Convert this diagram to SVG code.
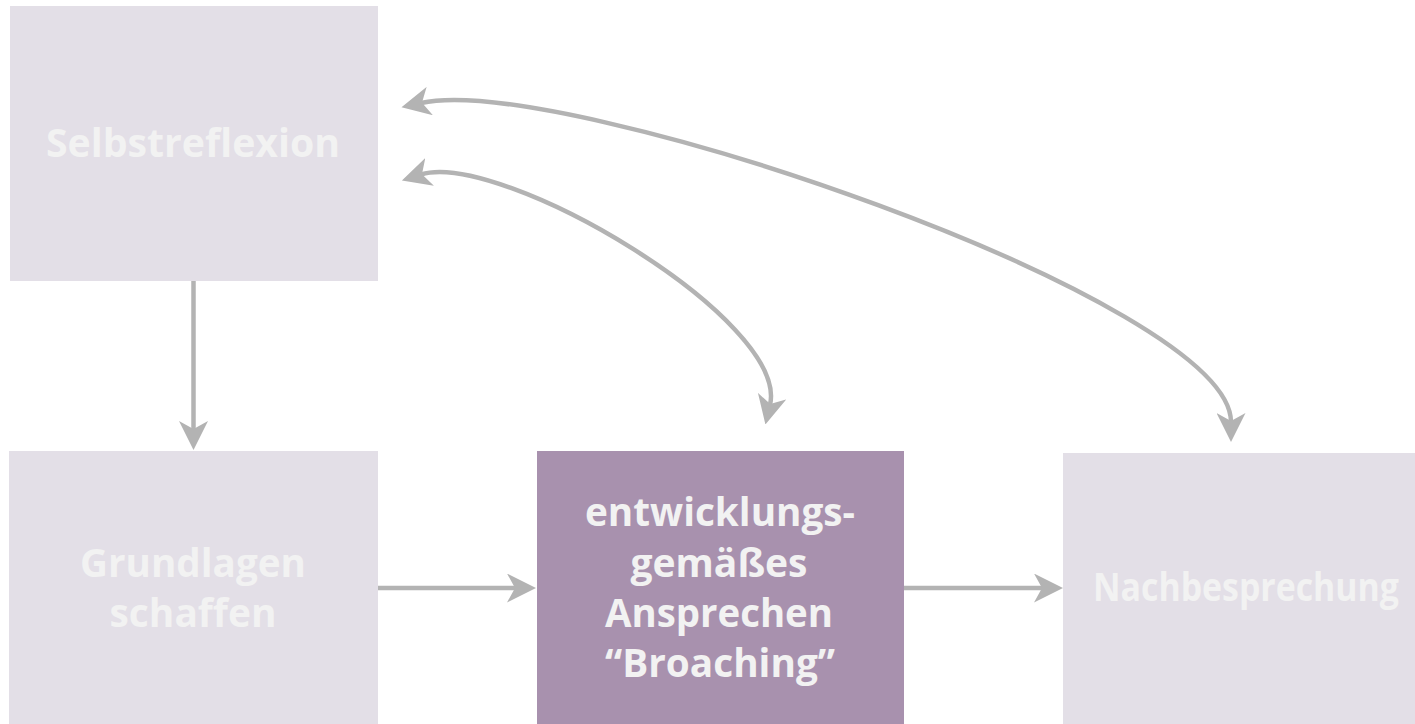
<svg xmlns="http://www.w3.org/2000/svg" width="1415" height="724" viewBox="0 0 1415 724">
  <style>
    .box-light { fill: #e3dfe7; }
    .box-accent { fill: #a891ae; }
    .label { font-family: "Open Sans", "Noto Sans", "Liberation Sans", sans-serif; font-weight: 700; font-size: 40px; fill: #f2f2f2; text-anchor: middle; }
    .edge { fill: none; stroke: #b3b3b3; stroke-width: 4.5; }
  </style>
  <defs>
    <marker id="arrow" markerUnits="userSpaceOnUse" viewBox="0 0 29 29" markerWidth="29" markerHeight="29" refX="9" refY="14.5" orient="auto-start-reverse">
      <path d="M0,0 L29,14.5 L0,29 L8,14.5 Z" fill="#b3b3b3"/>
    </marker>
  </defs>
  <rect width="1415" height="724" fill="#ffffff"/>

  <g id="node-selbstreflexion">
    <rect class="box-light" x="10" y="6" width="368" height="275"/>
    <text class="label" x="193" y="157" textLength="294" lengthAdjust="spacingAndGlyphs">Selbstreflexion</text>
  </g>

  <g id="node-grundlagen">
    <rect class="box-light" x="9" y="451" width="369" height="273"/>
    <text class="label" x="193" y="577" textLength="226" lengthAdjust="spacingAndGlyphs">Grundlagen</text>
    <text class="label" x="193" y="627" textLength="167" lengthAdjust="spacingAndGlyphs">schaffen</text>
  </g>

  <g id="node-broaching">
    <rect class="box-accent" x="537" y="451" width="367" height="273"/>
    <text class="label" x="720" y="526" textLength="270" lengthAdjust="spacingAndGlyphs">entwicklungs-</text>
    <text class="label" x="719" y="576.5" textLength="177" lengthAdjust="spacingAndGlyphs">gemäßes</text>
    <text class="label" x="719" y="627" textLength="228" lengthAdjust="spacingAndGlyphs">Ansprechen</text>
    <text class="label" x="720" y="677" textLength="230" lengthAdjust="spacingAndGlyphs">“Broaching”</text>
  </g>

  <g id="node-nachbesprechung">
    <rect class="box-light" x="1063" y="453" width="352" height="271"/>
    <text class="label" x="1246" y="601" font-size="36" textLength="306" lengthAdjust="spacingAndGlyphs">Nachbesprechung</text>
  </g>

  <g id="connectors">
    <path class="edge" d="M193.5,281 L193.5,430" marker-end="url(#arrow)"/>
    <path class="edge" d="M378,588 L516,588" marker-end="url(#arrow)"/>
    <path class="edge" d="M904,588 L1043,588" marker-end="url(#arrow)"/>
    <path class="edge" d="M421,174.5 C500,150 790,320 770,405" marker-start="url(#arrow)" marker-end="url(#arrow)"/>
    <path class="edge" d="M421,103 C560,72 1231,300 1231,422" marker-start="url(#arrow)" marker-end="url(#arrow)"/>
  </g>
</svg>
